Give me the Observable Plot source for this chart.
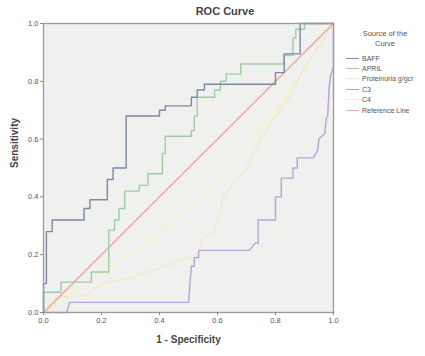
<!DOCTYPE html>
<html>
<head>
<meta charset="utf-8">
<script src="https://cdn.jsdelivr.net/npm/d3@7"></script>
<script src="https://cdn.jsdelivr.net/npm/@observablehq/plot@0.6"></script>
<style>
  body { margin: 0; background: #fff; font-family: "Liberation Sans", Arial, sans-serif; }
  #wrap { position: relative; width: 425px; height: 356px; }
  #title { position: absolute; left: 150px; width: 150px; top: 5px; text-align: center; font-weight: bold; font-size: 11px; color: #444; }
  #legend { position: absolute; left: 346px; top: 29px; font-size: 7px; color: #555; }
  #legend .head { text-align: center; width: 70px; margin-left: 4px; line-height: 10px; margin-bottom: 4px; font-size: 7.5px; }
  #legend .item { display: flex; align-items: center; height: 10.4px; }
  #legend .sw { width: 13px; height: 0; border-top: 1.2px solid; margin-right: 3px; }
</style>
</head>
<body>
<div id="wrap">
  <div id="chart"></div>
  <div id="title">ROC Curve</div>
  <div id="legend"></div>
</div>
<script>
// Series (1 - specificity, sensitivity)
const seriesNames = ["BAFF", "APRIL", "Proteinuria g/gcr", "C3", "C4", "Reference Line"];
const seriesColors = ["#7b89a4", "#9fcca6", "#f1e9c6", "#b8a2dc", "#f5f2c4", "#e8a89d"];

const baffX = [0,0,0.01,0.01,0.03,0.03,0.14,0.14,0.16,0.16,0.22,0.22,0.24,0.24,0.285,0.285,0.40,0.40,0.42,0.42,0.51,0.51,0.53,0.53,0.555,0.555,0.80,0.80,0.83,0.83,0.885,0.885,1];
const baffY = [0,0.10,0.10,0.28,0.28,0.32,0.32,0.36,0.36,0.39,0.39,0.46,0.46,0.50,0.50,0.68,0.68,0.70,0.70,0.715,0.715,0.745,0.745,0.77,0.77,0.79,0.79,0.83,0.83,0.895,0.895,1,1];

const aprilX = [0,0,0.06,0.06,0.165,0.165,0.225,0.225,0.245,0.245,0.26,0.26,0.28,0.28,0.33,0.33,0.36,0.36,0.41,0.41,0.42,0.42,0.51,0.51,0.52,0.52,0.53,0.53,0.59,0.59,0.61,0.61,0.63,0.63,0.68,0.68,0.83,0.83,0.86,0.86,0.87,0.87,0.90,0.90,1];
const aprilY = [0,0.07,0.07,0.105,0.105,0.14,0.14,0.285,0.285,0.32,0.32,0.36,0.36,0.42,0.42,0.44,0.44,0.48,0.48,0.55,0.55,0.61,0.61,0.63,0.63,0.68,0.68,0.745,0.745,0.77,0.77,0.80,0.80,0.825,0.825,0.86,0.86,0.89,0.89,0.95,0.95,0.98,0.98,1,1];

const protX = [0,0.04,0.04,0.15,0.2,0.3,0.45,0.5,0.53,0.55,0.59,0.62,0.7,0.75,0.8,0.85,0.9,0.95,1];
const protY = [0,0.02,0.05,0.06,0.1,0.12,0.17,0.19,0.19,0.26,0.28,0.4,0.5,0.6,0.68,0.75,0.85,0.92,1];

const c3X = [0,0.08,0.09,0.50,0.505,0.51,0.52,0.52,0.535,0.535,0.71,0.73,0.74,0.74,0.80,0.80,0.82,0.82,0.86,0.86,0.875,0.875,0.93,0.945,0.95,0.97,0.975,0.98,0.985,0.99,1,1];
const c3Y = [0,0,0.035,0.035,0.10,0.16,0.16,0.19,0.19,0.215,0.215,0.24,0.24,0.32,0.32,0.40,0.40,0.465,0.465,0.50,0.50,0.535,0.535,0.56,0.60,0.62,0.67,0.68,0.78,0.82,0.85,1];

const c4X = [0,0.03,0.1,0.2,0.3,0.4,0.5,0.6,0.7,0.8,0.9,1];
const c4Y = [0,0.03,0.07,0.14,0.2,0.28,0.36,0.46,0.58,0.7,0.84,1];

const refX = [0, 1];
const refY = [0, 1];

const tickValues = [0, 0.2, 0.4, 0.6, 0.8, 1.0];

const toRows = (xs, ys, s) => xs.map((x, i) => ({x, y: ys[i], s}));
const rows = [
  ...toRows(c4X, c4Y, seriesNames[4]),
  ...toRows(protX, protY, seriesNames[2]),
  ...toRows(refX, refY, seriesNames[5]),
  ...toRows(c3X, c3Y, seriesNames[3]),
  ...toRows(aprilX, aprilY, seriesNames[1]),
  ...toRows(baffX, baffY, seriesNames[0])
];

const chart = Plot.plot({
  width: 425,
  height: 356,
  marginLeft: 43,
  marginRight: 92,
  marginTop: 23,
  marginBottom: 44,
  style: {fontFamily: "Liberation Sans, Arial, sans-serif", fontSize: "7.5px", color: "#555", background: "transparent"},
  x: {domain: [0, 1]},
  y: {domain: [0, 1]},
  color: {domain: seriesNames, range: seriesColors},
  marks: [
    Plot.frame({fill: "#f0f0ee", stroke: "none"}),
    Plot.line(rows, {x: "x", y: "y", z: "s", stroke: "s", strokeWidth: 1.4}),
    Plot.frame({stroke: "#9a9a9a", strokeWidth: 1.3}),
    Plot.axisX({ticks: tickValues, tickFormat: d3.format(".1f"), tickSize: 3, tickPadding: 2, label: null, stroke: "#888"}),
    Plot.axisY({ticks: tickValues, tickFormat: d3.format(".1f"), tickSize: 3, tickPadding: 2, label: null, stroke: "#888"}),
    Plot.text(["1 - Specificity"], {frameAnchor: "bottom", dy: 30, fontWeight: "bold", fontSize: 10, fill: "#444"}),
    Plot.text(["Sensitivity"], {frameAnchor: "left", dx: -29, rotate: -90, fontWeight: "bold", fontSize: 10, fill: "#444"})
  ]
});
document.getElementById("chart").appendChild(chart);

const legend = document.getElementById("legend");
legend.innerHTML = '<div class="head">Source of the<br>Curve</div>' +
  seriesNames.map((n, i) => `<div class="item"><span class="sw" style="border-color:${seriesColors[i]}"></span><span>${n}</span></div>`).join("");
</script>
</body>
</html>
